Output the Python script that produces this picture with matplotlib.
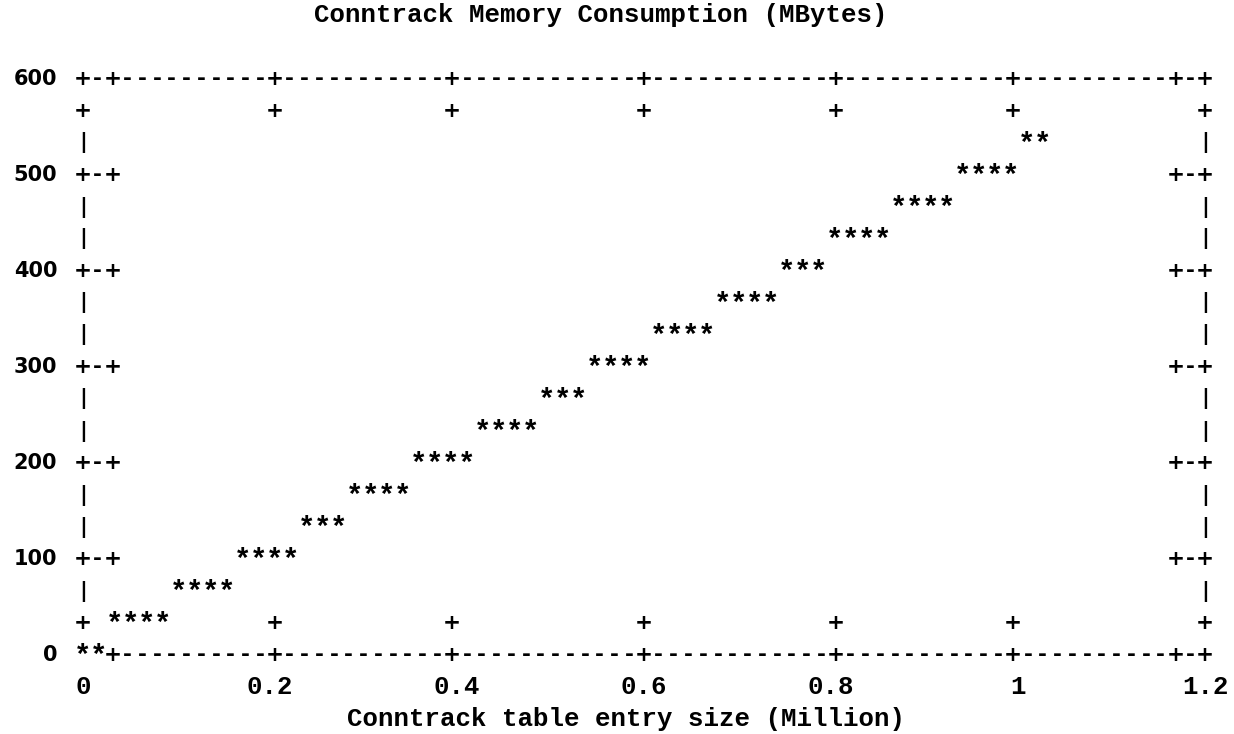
"""Conntrack memory chart, redrawn in the style of a gnuplot 'dumb' terminal plot."""

import matplotlib

matplotlib.use("Agg")
import matplotlib.pyplot as plt

# values
entries_million = [0.0, 0.256, 0.512, 0.768, 1.024]
memory_mbytes = [0, 135, 270, 405, 540]

x_ticks = [0, 0.2, 0.4, 0.6, 0.8, 1.0, 1.2]
x_tick_labels = ["0", "0.2", "0.4", "0.6", "0.8", "1", "1.2"]
y_ticks = [0, 100, 200, 300, 400, 500, 600]
y_tick_labels = ["0", "100", "200", "300", "400", "500", "600"]

title = "Conntrack Memory Consumption (MBytes)"
xlabel = "Conntrack table entry size (Million)"

XMAX, YMAX = 1.2, 600
COLS, ROWS = 76, 18          # character cells of the border box
CELL_W = XMAX / COLS
ROW_H = YMAX / ROWS
STAR_W = 0.0171              # the '*' glyphs sit a little wider apart

MONO = dict(family="Liberation Mono", weight="bold", size=18.5, color="black")
SANS = dict(family="DejaVu Sans", weight="bold", size=15.5, color="black")


def border_cells():
    """Return {(col, row): char} for the frame and its tick marks."""
    grid = {}
    for col in range(COLS + 1):
        grid[(col, 0)] = "-"
        grid[(col, ROWS)] = "-"
    for row in range(ROWS + 1):
        grid[(0, row)] = "|"
        grid[(COLS, row)] = "|"
    for y in y_ticks:
        row = round(y / ROW_H)
        for col, ch in ((0, "+"), (1, "-"), (2, "+")):
            grid[(col, row)] = ch
            grid[(COLS - col, row)] = ch
    for x in x_ticks:
        col = round(x / CELL_W)
        for row in (0, 1, ROWS - 1, ROWS):
            grid[(col, row)] = "+"
    return grid


def line_cells(xs, ys):
    """Rasterise the polyline into character cells, the way gnuplot's dumb terminal does."""
    pts = [(round(x / STAR_W), round(y / ROW_H)) for x, y in zip(xs, ys)]
    cells = set()
    for (x0, y0), (x1, y1) in zip(pts[:-1], pts[1:]):
        dx, dy = x1 - x0, y1 - y0
        cells.add((x0, y0))
        if abs(dx) >= abs(dy):
            sx = 1 if dx > 0 else -1
            for d in range(1, abs(dx)):
                cells.add((x0 + d * sx, y0 + int(dy * d / abs(dx) + 0.5)))
        else:
            sy = 1 if dy > 0 else -1
            for d in range(1, abs(dy)):
                cells.add((x0 + int(dx * d / abs(dy) + 0.5), y0 + d * sy))
        cells.add((x1, y1))
    return cells


fig = plt.figure(figsize=(12.34, 7.34), dpi=100, facecolor="white")
ax = fig.add_axes([83 / 1234, 79 / 734, 1122 / 1234, 576 / 734])
ax.set_xlim(0, XMAX)
ax.set_ylim(0, YMAX)
ax.axis("off")

grid = border_cells()
stars = line_cells(entries_million, memory_mbytes)

# the curve is drawn over the frame
for sc, row in stars:
    grid.pop((round(sc * STAR_W / CELL_W), row), None)

for (col, row), ch in grid.items():
    ax.text(col * CELL_W, row * ROW_H, ch, ha="center", va="center", **SANS)

for sc, row in stars:
    ax.text(sc * STAR_W, row * ROW_H - 1.5, "*", ha="center", va="center",
            family="Liberation Mono", weight="bold", size=21)

for x, label in zip(x_ticks, x_tick_labels):
    ax.text(x, -ROW_H, label, ha="center", va="center", **MONO)

for y, label in zip(y_ticks, y_tick_labels):
    ax.text(-1.75 * CELL_W, y, label, ha="right", va="center",
            family="DejaVu Sans", weight="bold", size=15)

ax.text(0.554, 20 * ROW_H, title, ha="center", va="center", **MONO)
ax.text(0.581, -2 * ROW_H, xlabel, ha="center", va="center", **MONO)

fig.savefig("out.png", dpi=100, facecolor="white")
